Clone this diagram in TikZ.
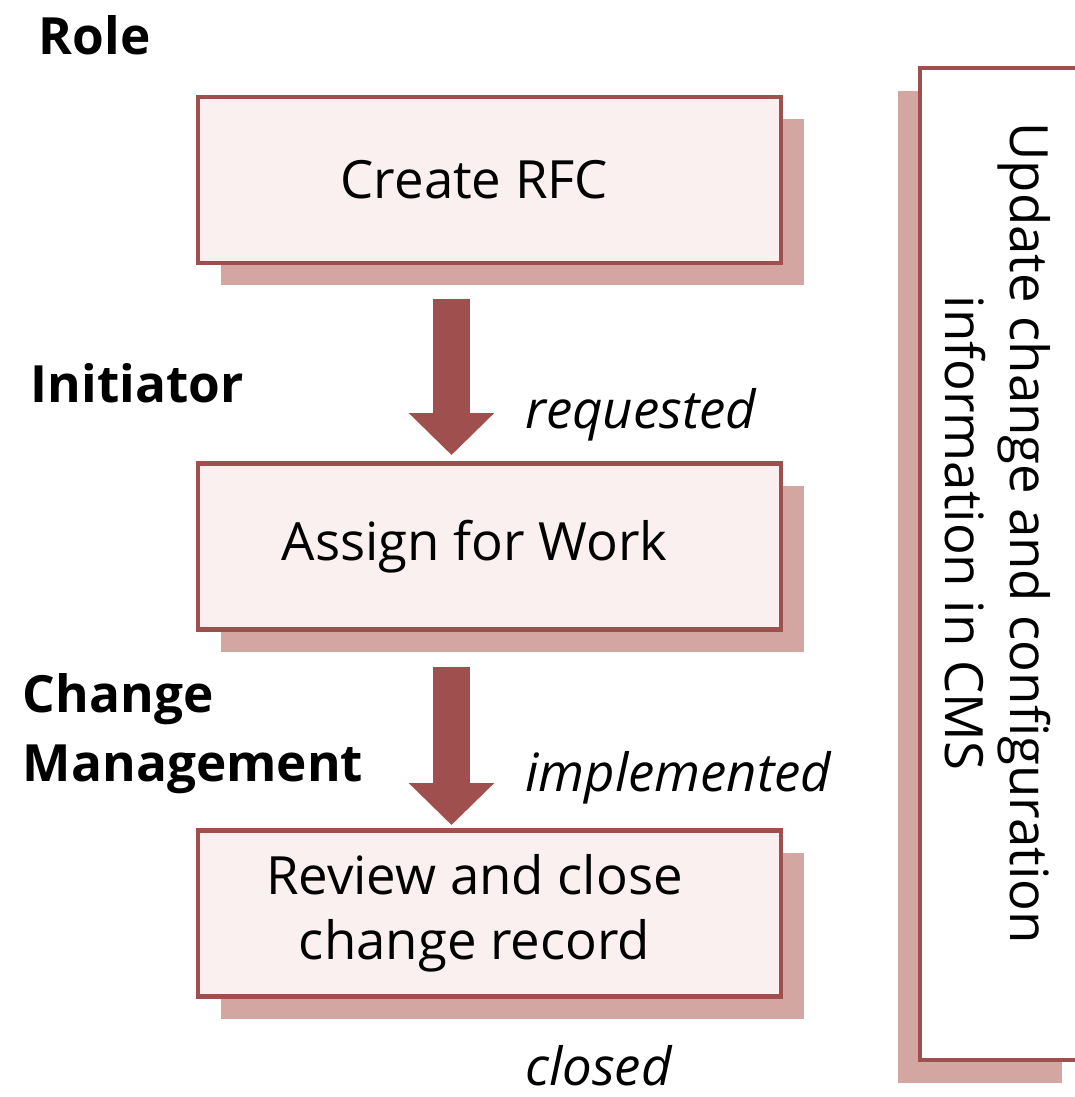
\documentclass[tikz,border=0pt]{standalone}
\usepackage{fontspec}
\setmainfont{Open Sans}
\usetikzlibrary{positioning,shadows,arrows.meta,calc}
\definecolor{boxred}{HTML}{A04F4F}
\definecolor{boxfill}{HTML}{F9F0EF}
\definecolor{shade}{HTML}{D4A6A2}
\tikzset{
	stepbox/.style={draw=boxred,line width=3.5pt,fill=boxfill,minimum width=583*0.025cm,minimum height=166*0.025cm,inner sep=0pt,
		drop shadow={shadow xshift=23*0.025cm,shadow yshift=-22*0.025cm,fill=shade,opacity=1}},
	steptext/.style={align=center,font=\fontsize{37.5}{46}\selectfont,xshift=-15*0.025cm},
	rolelabel/.style={anchor=west,align=left,font=\fontsize{36.5}{49}\selectfont\bfseries},
	statelabel/.style={anchor=west,inner sep=0pt,font=\fontsize{37.5}{44}\selectfont\itshape},
	bigarrow/.style={draw=boxred,line width=37*0.025cm,-{Triangle[length=42*0.025cm,width=83*0.025cm]},color=boxred}
}
\begin{document}
\begin{tikzpicture}[x=0.025cm,y=-0.025cm]
	\useasboundingbox (0,0) rectangle (1074,1097);
	% process steps
	\node[stepbox,label={[steptext]center:Create RFC}] (create) at (489.5,180) {};
	\node[stepbox,label={[steptext]center:Assign for Work}] (assign) at (489.5,546.5) {};
	\node[stepbox,label={[steptext]center:Review and close\\change record}] (review) at (489.5,913.5) {};
	% CMS box on the right
	\node[draw=boxred,line width=3.5pt,fill=white,minimum width=164*0.025cm,minimum height=992*0.025cm,inner sep=0pt,
		drop shadow={shadow xshift=-22*0.025cm,shadow yshift=-23*0.025cm,fill=shade,opacity=1}] (cms) at (1002,564) {};
	\node[rotate=-90,align=center,font=\fontsize{37.5}{46}\selectfont] (cmstext) at (998,533) {Update change and configuration\\information in CMS};
	% arrows
	\draw[bigarrow] ($(create.south)+(-38,34)$) -- ($(assign.north)+(-38,-6)$);
	\draw[bigarrow] ($(assign.south)+(-38,35)$) -- ($(review.north)+(-38,-3)$);
	% roles
	\node[rolelabel] (role) at (34,35) {Role};
	\node[rolelabel] (init) at (26,383) {Initiator};
	\node[rolelabel] (chgmgmt) at (18,734) {Change\\Management};
	% states
	\node[statelabel] (requested) at (525,415) {requested};
	\node[statelabel] (implemented) at (525,778) {implemented};
	\node[statelabel] (closed) at (525,1066) {closed};
\end{tikzpicture}
\end{document}
